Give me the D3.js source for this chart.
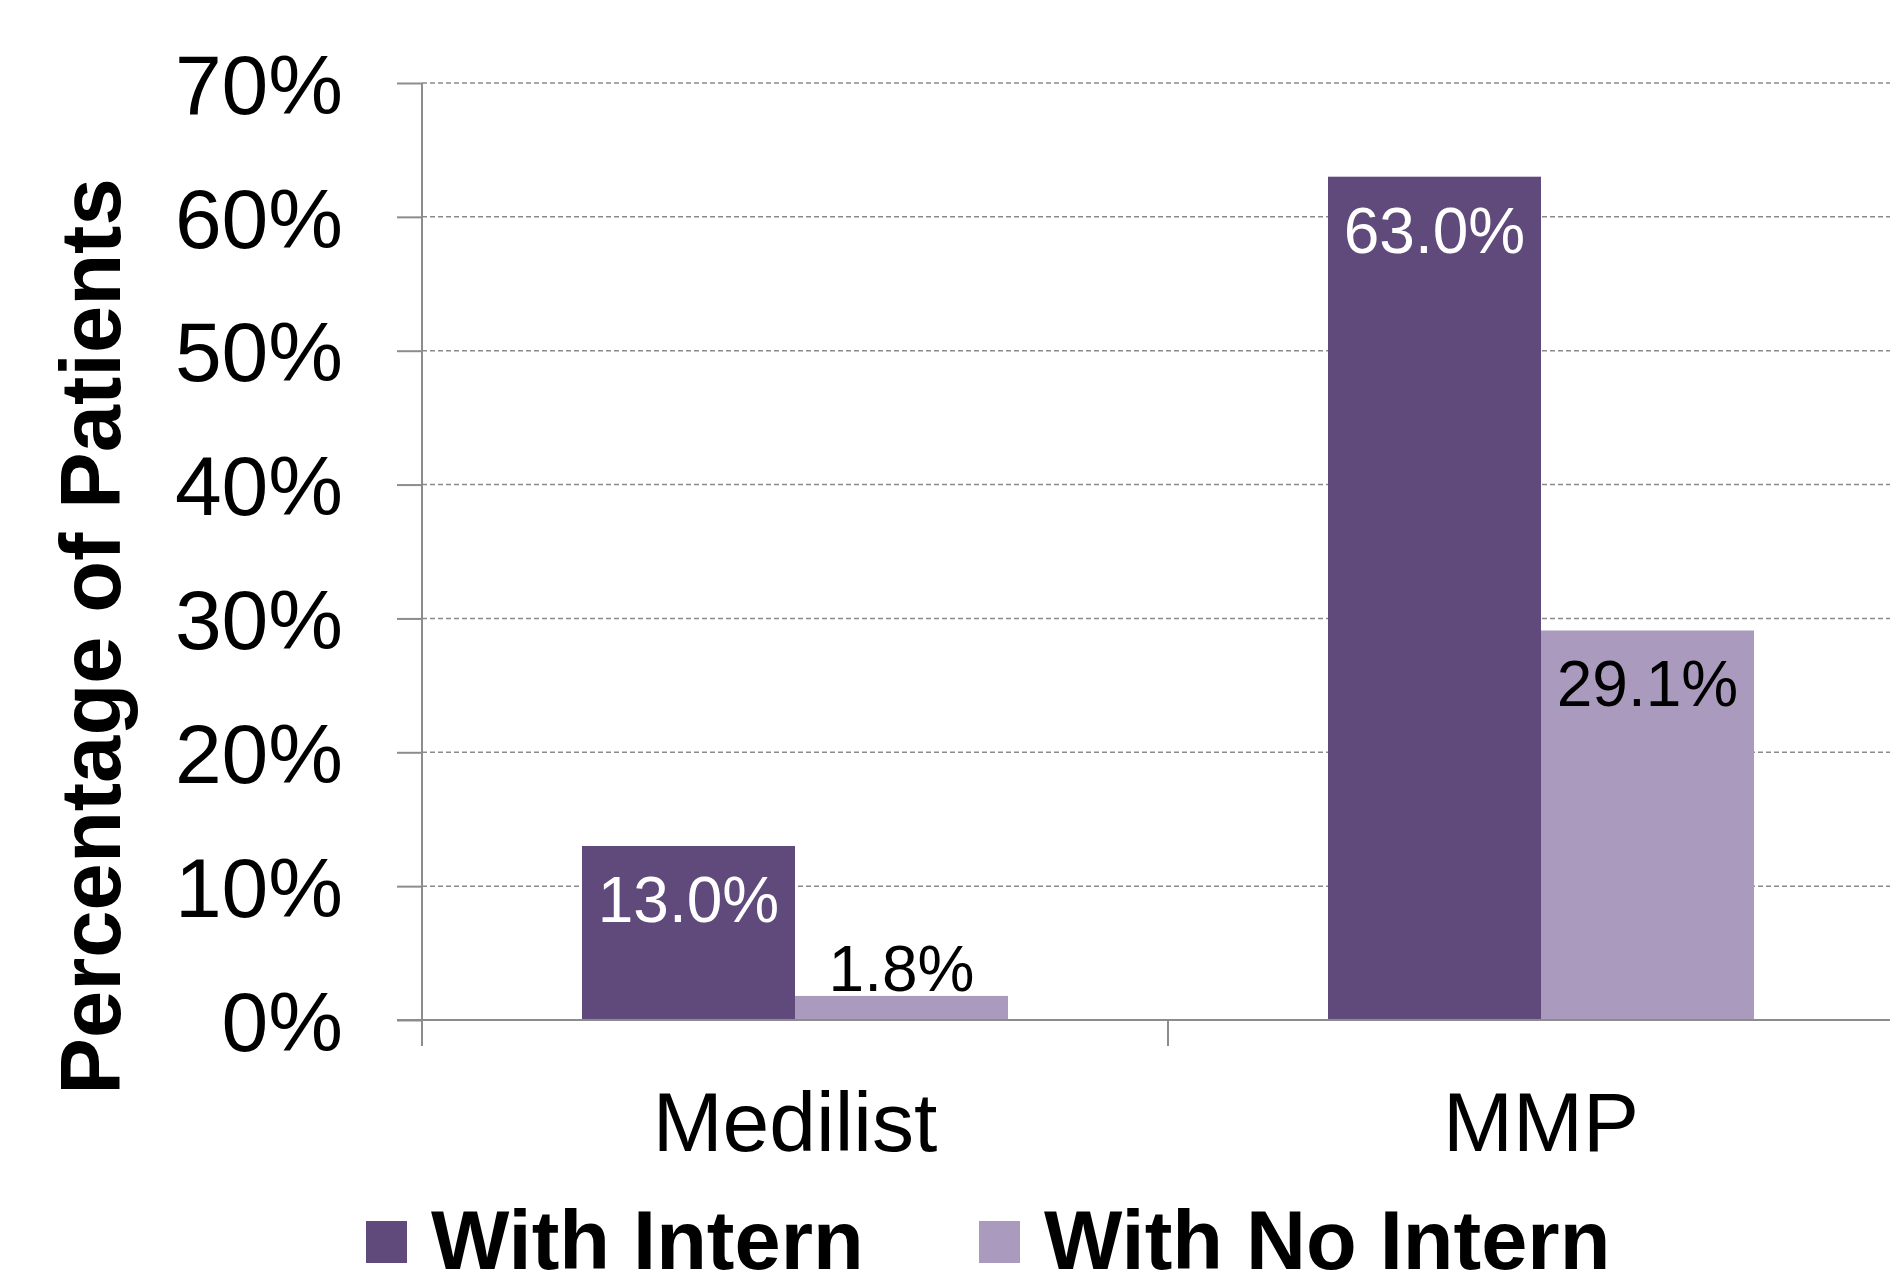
<!DOCTYPE html>
<html>
<head>
<meta charset="utf-8">
<script src="https://cdn.jsdelivr.net/npm/d3@7"></script>
<style>
  html, body { margin: 0; padding: 0; background: #fff; }
  svg { display: block; font-family: "Liberation Sans", Arial, sans-serif; }
</style>
</head>
<body>
<svg id="chart" width="1890" height="1286"></svg>
<script>
// Share of patients, by tool and by intern involvement
const categories = ["Medilist", "MMP"];
const seriesNames = ["With Intern", "With No Intern"];
const withIntern = [13.0, 63.0];
const withNoIntern = [1.8, 29.1];
const yTicks = [0, 10, 20, 30, 40, 50, 60, 70];
const colors = ["#604a7b", "#aa9bbe"];

const svg = d3.select("#chart");
const W = 1890, H = 1286;

const margin = { left: 422, top: 83, bottom: 1020 };
const bandW = 746;   // width of one category slot
const groupGap = 160; // empty space on each side of a bar pair

const x = d3.scaleBand()
  .domain(categories)
  .range([margin.left, margin.left + bandW * categories.length])
  .paddingInner(0).paddingOuter(0);

// Bars of one category sit side by side, centred in the slot
const xInner = d3.scaleBand()
  .domain(seriesNames)
  .range([groupGap, x.bandwidth() - groupGap])
  .paddingInner(0).paddingOuter(0);

const y = d3.scaleLinear().domain([0, 70]).range([margin.bottom, margin.top]);

const axisColor = "#8c8c8c";

// Dashed horizontal gridlines
svg.append("g")
  .selectAll("line")
  .data(yTicks.filter(d => d > 0))
  .join("line")
  .attr("x1", margin.left).attr("x2", W)
  .attr("y1", d => y(d)).attr("y2", d => y(d))
  .attr("stroke", "#8a8a8a")
  .attr("stroke-width", 1.5)
  .attr("stroke-dasharray", "5,3");

// Bars
const rows = categories.map((c, i) => ({ cat: c, vals: [withIntern[i], withNoIntern[i]] }));
const groups = svg.append("g").selectAll("g")
  .data(rows).join("g")
  .attr("transform", d => `translate(${x(d.cat)},0)`);

groups.selectAll("rect")
  .data(d => d.vals.map((v, j) => ({ v, s: seriesNames[j], j })))
  .join("rect")
  .attr("x", d => xInner(d.s))
  .attr("width", xInner.bandwidth())
  .attr("y", d => y(d.v))
  .attr("height", d => y(0) - y(d.v))
  .attr("fill", d => colors[d.j]);

// Value labels: inside the bar when there is room, else on top
groups.selectAll("text")
  .data(d => d.vals.map((v, j) => ({ v, s: seriesNames[j], j })))
  .join("text")
  .attr("x", d => xInner(d.s) + xInner.bandwidth() / 2)
  .attr("y", d => (y(0) - y(d.v)) > 90 ? y(d.v) + 76 : y(d.v) - 5)
  .attr("text-anchor", "middle")
  .attr("font-size", 64)
  .attr("fill", d => (d.j === 0 && (y(0) - y(d.v)) > 90) ? "#ffffff" : "#000000")
  .text(d => d.v.toFixed(1) + "%");

// Y axis
const yAxis = d3.axisLeft(y)
  .tickValues(yTicks)
  .tickFormat(d => d + "%")
  .tickSize(25)
  .tickPadding(54);

const gy = svg.append("g")
  .attr("transform", `translate(${margin.left},0)`)
  .call(yAxis);
gy.select(".domain").remove();
gy.selectAll(".tick line").attr("stroke", axisColor).attr("stroke-width", 2);
gy.selectAll(".tick text")
  .attr("font-size", 84)
  .attr("font-family", "'Liberation Sans', Arial, sans-serif")
  .attr("fill", "#000")
  .attr("dy", "0.36em");

// Axis lines
svg.append("line")
  .attr("x1", margin.left).attr("x2", margin.left)
  .attr("y1", margin.top).attr("y2", margin.bottom + 26)
  .attr("stroke", axisColor).attr("stroke-width", 2);
svg.append("line")
  .attr("x1", margin.left - 25).attr("x2", W)
  .attr("y1", y(0)).attr("y2", y(0))
  .attr("stroke", axisColor).attr("stroke-width", 2);

// Category separator ticks
svg.append("g").selectAll("line")
  .data(categories.slice(1))
  .join("line")
  .attr("x1", d => x(d)).attr("x2", d => x(d))
  .attr("y1", y(0)).attr("y2", y(0) + 26)
  .attr("stroke", axisColor).attr("stroke-width", 2);

// Category labels
svg.append("g").selectAll("text")
  .data(categories)
  .join("text")
  .attr("x", d => x(d) + x.bandwidth() / 2)
  .attr("y", 1151)
  .attr("text-anchor", "middle")
  .attr("font-size", 84)
  .attr("fill", "#000")
  .text(d => d);

// Y axis title
svg.append("text")
  .attr("transform", `translate(120,${(margin.top + margin.bottom) / 2 + 85}) rotate(-90)`)
  .attr("text-anchor", "middle")
  .attr("font-size", 85)
  .attr("font-weight", "bold")
  .attr("fill", "#000")
  .text("Percentage of Patients");

// Legend
const legendX = [366, 979];
const legend = svg.append("g").selectAll("g")
  .data(seriesNames)
  .join("g")
  .attr("transform", (d, i) => `translate(${legendX[i]},1221)`);
legend.append("rect")
  .attr("width", 41).attr("height", 42)
  .attr("fill", (d, i) => colors[i]);
legend.append("text")
  .attr("x", 65).attr("y", 48)
  .attr("font-size", 83)
  .attr("font-weight", "bold")
  .attr("fill", "#000")
  .text(d => d);
</script>
</body>
</html>
